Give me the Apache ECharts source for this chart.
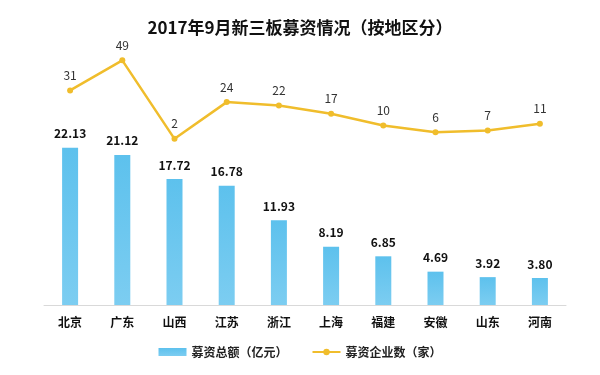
<!DOCTYPE html>
<html>
<head>
<meta charset="utf-8">
<script src="https://cdn.jsdelivr.net/npm/echarts@6/dist/echarts.min.js"></script>
<style>
  html, body { margin: 0; padding: 0; background: #fff; }
  #main { width: 600px; height: 375px; }
</style>
</head>
<body>
<div id="main"></div>
<script>
// 地区
const regions = ['北京', '广东', '山西', '江苏', '浙江', '上海', '福建', '安徽', '山东', '河南'];
// 募资总额（亿元）
const amounts = [22.13, 21.12, 17.72, 16.78, 11.93, 8.19, 6.85, 4.69, 3.92, 3.80];
// 募资企业数（家）
const companies = [31, 49, 2, 24, 22, 17, 10, 6, 7, 11];

const cjk = '"Noto Sans CJK SC", "Noto Sans", sans-serif';

let mycharts = echarts.init(document.getElementById('main'));

let option = {
  backgroundColor: '#fff',
  textStyle: { fontFamily: cjk },
  title: {
    text: '2017年9月新三板募资情况（按地区分）',
    left: 'center',
    top: 14,
    textStyle: { fontSize: 17, fontWeight: 'bold', color: '#111', fontFamily: cjk }
  },
  legend: {
    bottom: 12,
    left: 'center',
    itemGap: 24,
    itemWidth: 28,
    itemHeight: 8,
    textStyle: { fontSize: 12, fontWeight: 'bold', color: '#222', fontFamily: cjk },
    data: [
      { name: '募资总额（亿元）', icon: 'rect' },
      { name: '募资企业数（家）' }
    ]
  },
  grid: { left: 44, right: 34, top: 42, bottom: 70 },
  xAxis: {
    type: 'category',
    data: regions,
    axisLine: { lineStyle: { color: '#d9d9d9', width: 1 } },
    axisTick: { show: false },
    axisLabel: { fontSize: 12, fontWeight: 'bold', color: '#111', margin: 11, fontFamily: cjk }
  },
  yAxis: [
    { type: 'value', min: 0, max: 37, show: false, splitLine: { show: false } },
    { type: 'value', min: -97.5, max: 60, show: false, splitLine: { show: false } }
  ],
  series: [
    {
      name: '募资总额（亿元）',
      type: 'bar',
      yAxisIndex: 0,
      barWidth: 16,
      data: amounts,
      itemStyle: {
        color: new echarts.graphic.LinearGradient(0, 0, 0, 1, [
          { offset: 0, color: '#5dc1ed' },
          { offset: 1, color: '#7ccdf1' }
        ])
      },
      label: {
        show: true,
        position: 'top',
        distance: 8,
        fontSize: 12,
        fontWeight: 'bold',
        color: '#111',
        formatter: p => p.value.toFixed(2)
      }
    },
    {
      name: '募资企业数（家）',
      type: 'line',
      yAxisIndex: 1,
      data: companies,
      smooth: false,
      symbol: 'circle',
      symbolSize: 6,
      lineStyle: { color: '#f0bd2c', width: 2.5 },
      itemStyle: { color: '#f0bd2c' },
      label: {
        show: true,
        position: 'top',
        distance: 6,
        fontSize: 12,
        color: '#333'
      }
    }
  ]
};

mycharts.setOption(option);
</script>
</body>
</html>
